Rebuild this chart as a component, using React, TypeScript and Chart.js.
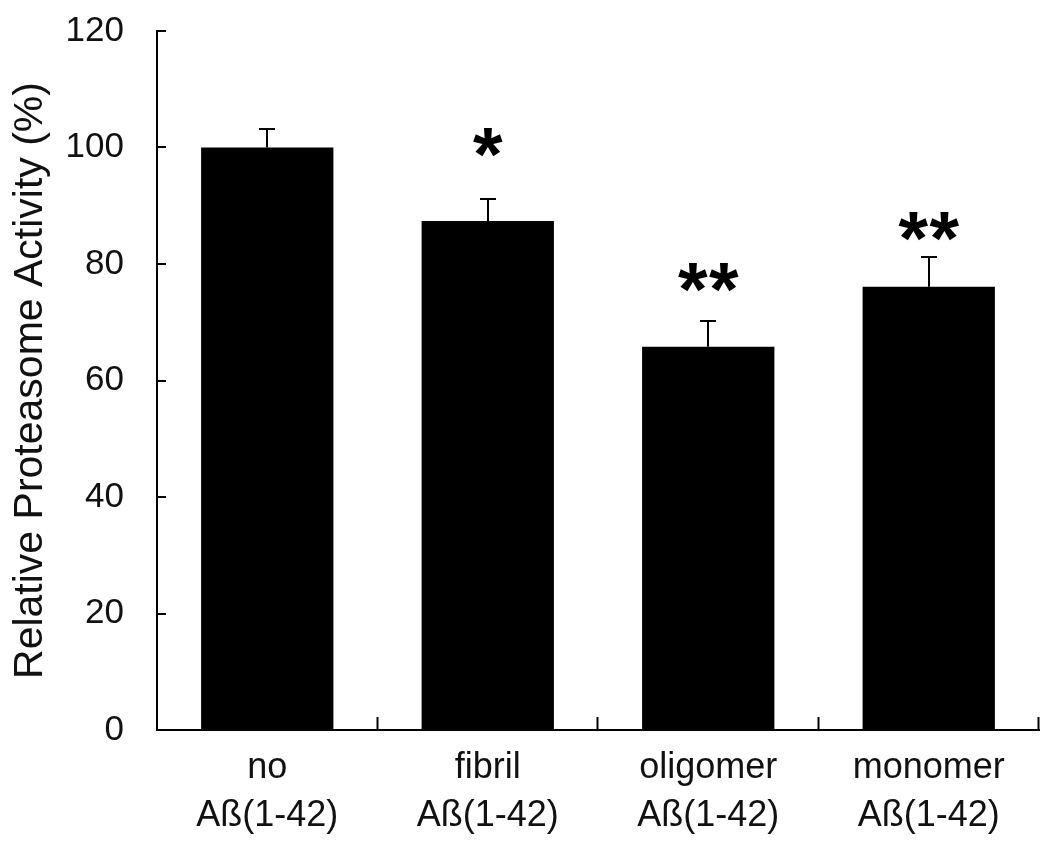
import React, { useEffect, useRef } from "react";
import { Chart, registerables } from "chart.js";

Chart.register(...registerables);

const categories: string[][] = [
  ["no", "Aß(1-42)"],
  ["fibril", "Aß(1-42)"],
  ["oligomer", "Aß(1-42)"],
  ["monomer", "Aß(1-42)"],
];
const activity: number[] = [100, 87.4, 65.8, 76.1];
const errorUp: number[] = [3.2, 3.8, 4.4, 5.1];
const significance: string[] = ["", "*", "**", "**"];
const markLevel: (number | null)[] = [null, 100.8, 77.6, 86.4];
const yMin = 0;
const yMax = 120;
const yStep = 20;
const yTitle = "Relative Proteasome Activity (%)";

const FONT = "'Liberation Sans', Arial, sans-serif";
const INK = "#111111";

const overlay = {
  id: "overlay",
  afterDatasetsDraw(chart: any) {
    const ctx = chart.ctx;
    const y = chart.scales.y;
    const area = chart.chartArea;
    ctx.save();
    ctx.strokeStyle = "#000";
    ctx.lineWidth = 2;
    for (let v = yMin; v <= yMax; v += yStep) {
      const py = Math.round(y.getPixelForValue(v));
      ctx.beginPath();
      ctx.moveTo(area.left, py);
      ctx.lineTo(area.left + 9, py);
      ctx.stroke();
    }
    const n = categories.length;
    const w = (area.right - area.left) / n;
    for (let i = 1; i <= n; i++) {
      const px = Math.round(area.left + i * w) - 0.5;
      ctx.beginPath();
      ctx.moveTo(px, area.bottom);
      ctx.lineTo(px, area.bottom - 13);
      ctx.stroke();
    }
    const meta = chart.getDatasetMeta(0);
    meta.data.forEach((bar: any, i: number) => {
      const cx = Math.round(bar.x);
      const top = y.getPixelForValue(activity[i]);
      const capY = Math.round(y.getPixelForValue(activity[i] + errorUp[i]));
      ctx.beginPath();
      ctx.moveTo(cx, top);
      ctx.lineTo(cx, capY);
      ctx.moveTo(cx - 8, capY);
      ctx.lineTo(cx + 8, capY);
      ctx.stroke();
    });
    ctx.fillStyle = "#000";
    const size = 76;
    ctx.font = `bold ${size}px ${FONT}`;
    ctx.textAlign = "center";
    ctx.textBaseline = "alphabetic";
    const m = ctx.measureText("*");
    const shift = (m.actualBoundingBoxAscent - m.actualBoundingBoxDescent) / 2;
    meta.data.forEach((bar: any, i: number) => {
      const s = significance[i];
      const lvl = markLevel[i];
      if (!s || lvl === null) return;
      const cy = y.getPixelForValue(lvl);
      const gap = 31;
      const count = s.length;
      for (let k = 0; k < count; k++) {
        const ox = (k - (count - 1) / 2) * gap;
        ctx.fillText("*", bar.x + ox, cy + shift);
      }
    });
    ctx.restore();
  },
};

export default function App() {
  const ref = useRef<HTMLCanvasElement>(null);
  useEffect(() => {
    if (!ref.current) return;
    const chart = new Chart(ref.current, {
      type: "bar",
      data: {
        labels: categories,
        datasets: [
          {
            data: activity,
            backgroundColor: "#000",
            borderWidth: 0,
            barPercentage: 0.6,
            categoryPercentage: 1,
          },
        ],
      },
      options: {
        responsive: false,
        animation: false,
        layout: { padding: { top: 31, right: 11, left: 0, bottom: 0 } },
        plugins: { legend: { display: false }, tooltip: { enabled: false } },
        scales: {
          x: {
            grid: { display: false, drawTicks: false },
            border: { display: true, color: "#000", width: 2 },
            ticks: {
              color: INK,
              padding: 14,
              maxRotation: 0,
              autoSkip: false,
              font: { family: FONT, size: 36, lineHeight: 1.34 },
            },
            afterFit(scale: any) {
              scale.height = 123;
              scale.paddingLeft = 0;
              scale.paddingRight = 0;
            },
          },
          y: {
            min: yMin,
            max: yMax,
            grid: { display: false, drawTicks: false },
            border: { display: true, color: "#000", width: 2 },
            ticks: {
              stepSize: yStep,
              color: INK,
              padding: 33,
              font: { family: FONT, size: 35 },
            },
            title: {
              display: true,
              text: yTitle,
              color: INK,
              padding: { top: 6, bottom: 0 },
              font: { family: FONT, size: 41 },
            },
            afterFit(scale: any) {
              scale.width = 157;
              scale.paddingTop = 0;
              scale.paddingBottom = 0;
            },
          },
        },
      },
      plugins: [overlay],
    });
    return () => chart.destroy();
  }, []);
  return (
    <div style={{ position: "absolute", left: 0, top: 0, width: 1050, height: 853, background: "#fff" }}>
      <canvas ref={ref} width={1050} height={853} />
    </div>
  );
}
